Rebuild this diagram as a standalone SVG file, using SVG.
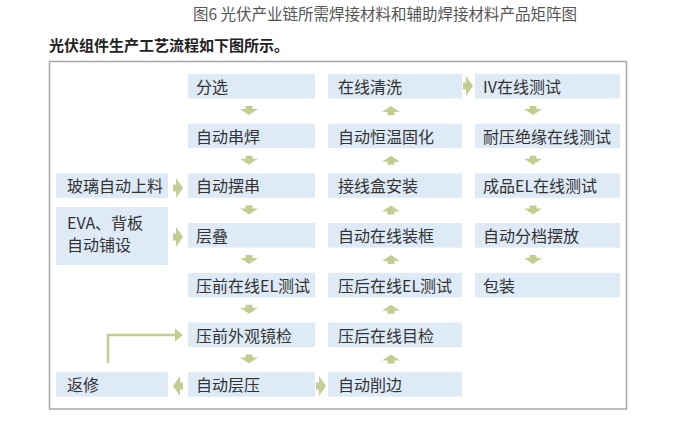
<svg xmlns="http://www.w3.org/2000/svg" width="690" height="426" viewBox="0 0 690 426">
<defs>
<style>
.box{fill:#deeaf6;}
.t{font-family:"Noto Sans CJK SC","Noto Sans",sans-serif;font-size:16px;fill:#333333;}
.arr{fill:#c4cc91;}
.line{fill:none;stroke:#c4cc91;stroke-width:2.5;}
</style>
<path id="dn" d="M-3.5,0 H3.5 V3 H9 L0,9 L-9,3 H-3.5 Z"/>
<path id="up" d="M-3.5,9 H3.5 V6 H9 L0,0 L-9,6 H-3.5 Z"/>
<path id="rt" d="M0,-3.5 H3 V-10 L10,0 L3,10 V3.5 H0 Z"/>
<path id="lt" d="M10,-3.5 H7 V-10 L0,0 L7,10 V3.5 H10 Z"/>
</defs>
<rect width="690" height="426" fill="#ffffff"/>
<text x="193" y="20" font-family="Noto Sans CJK SC, Noto Sans, sans-serif" font-size="15.5" fill="#555555">图6 光伏产业链所需焊接材料和辅助焊接材料产品矩阵图</text>
<text x="49" y="51" font-family="Noto Sans CJK SC, Noto Sans, sans-serif" font-size="15" font-weight="bold" fill="#222222">光伏组件生产工艺流程如下图所示。</text>
<rect x="49.5" y="61.5" width="577" height="347.5" fill="none" stroke="#a8a8a8" stroke-width="1.5"/>

<g id="n_glass"><rect class="box" x="56" y="173.4" width="112" height="24.5"/><text class="t" x="67" y="192.4">玻璃自动上料</text></g>
<g id="n_eva"><rect class="box" x="56" y="207" width="112" height="58"/><text class="t" x="67" y="228.5">EVA、背板</text><text class="t" x="67" y="251">自动铺设</text></g>
<g id="n_repair"><rect class="box" x="56" y="372.2" width="112" height="24.5"/><text class="t" x="67" y="391.2">返修</text></g>

<g id="n_sort"><rect class="box" x="188" y="74" width="127" height="24.5"/><text class="t" x="196" y="93">分选</text></g>
<g id="n_weld"><rect class="box" x="188" y="123.7" width="127" height="24.5"/><text class="t" x="196" y="142.7">自动串焊</text></g>
<g id="n_layout"><rect class="box" x="188" y="173.4" width="127" height="24.5"/><text class="t" x="196" y="192.4">自动摆串</text></g>
<g id="n_stack"><rect class="box" x="188" y="223.1" width="127" height="24.5"/><text class="t" x="196" y="242.1">层叠</text></g>
<g id="n_preel"><rect class="box" x="188" y="272.8" width="127" height="24.5"/><text class="t" x="196" y="291.8">压前在线EL测试</text></g>
<g id="n_previs"><rect class="box" x="188" y="322.5" width="127" height="24.5"/><text class="t" x="196" y="341.5">压前外观镜检</text></g>
<g id="n_lam"><rect class="box" x="188" y="372.2" width="127" height="24.5"/><text class="t" x="196" y="391.2">自动层压</text></g>

<g id="n_clean"><rect class="box" x="328" y="74" width="134" height="24.5"/><text class="t" x="338" y="93">在线清洗</text></g>
<g id="n_cure"><rect class="box" x="328" y="123.7" width="134" height="24.5"/><text class="t" x="338" y="142.7">自动恒温固化</text></g>
<g id="n_jbox"><rect class="box" x="328" y="173.4" width="134" height="24.5"/><text class="t" x="338" y="192.4">接线盒安装</text></g>
<g id="n_frame"><rect class="box" x="328" y="223.1" width="134" height="24.5"/><text class="t" x="338" y="242.1">自动在线装框</text></g>
<g id="n_postel"><rect class="box" x="328" y="272.8" width="134" height="24.5"/><text class="t" x="338" y="291.8">压后在线EL测试</text></g>
<g id="n_postvis"><rect class="box" x="328" y="322.5" width="134" height="24.5"/><text class="t" x="338" y="341.5">压后在线目检</text></g>
<g id="n_trim"><rect class="box" x="328" y="372.2" width="134" height="24.5"/><text class="t" x="338" y="391.2">自动削边</text></g>

<g id="n_iv"><rect class="box" x="475" y="74" width="145" height="24.5"/><text class="t" x="483" y="93">IV在线测试</text></g>
<g id="n_hipot"><rect class="box" x="475" y="123.7" width="145" height="24.5"/><text class="t" x="483" y="142.7">耐压绝缘在线测试</text></g>
<g id="n_finel"><rect class="box" x="475" y="173.4" width="145" height="24.5"/><text class="t" x="483" y="192.4">成品EL在线测试</text></g>
<g id="n_grade"><rect class="box" x="475" y="223.1" width="145" height="24.5"/><text class="t" x="483" y="242.1">自动分档摆放</text></g>
<g id="n_pack"><rect class="box" x="475" y="272.8" width="145" height="24.5"/><text class="t" x="483" y="291.8">包装</text></g>

<g id="connectors" class="arr">
<use href="#dn" x="249" y="106"/>
<use href="#dn" x="249" y="155.7"/>
<use href="#dn" x="249" y="205.4"/>
<use href="#dn" x="249" y="255.1"/>
<use href="#dn" x="249" y="304.8"/>
<use href="#dn" x="249" y="354.5"/>
<use href="#up" x="391" y="106"/>
<use href="#up" x="391" y="155.7"/>
<use href="#up" x="391" y="205.4"/>
<use href="#up" x="391" y="255.1"/>
<use href="#up" x="391" y="304.8"/>
<use href="#up" x="391" y="354.5"/>
<use href="#dn" x="533" y="106"/>
<use href="#dn" x="533" y="155.7"/>
<use href="#dn" x="533" y="205.4"/>
<use href="#dn" x="533" y="255.1"/>
<use href="#rt" x="463" y="86"/>
<use href="#rt" x="173" y="188"/>
<use href="#rt" x="173" y="237"/>
<use href="#lt" x="173" y="386"/>
<use href="#rt" x="316" y="386"/>
<polyline class="line" points="108,363 108,335 176,335"/>
<path d="M175,328.5 L183,335 L175,341.5 Z"/>
</g>
</svg>
